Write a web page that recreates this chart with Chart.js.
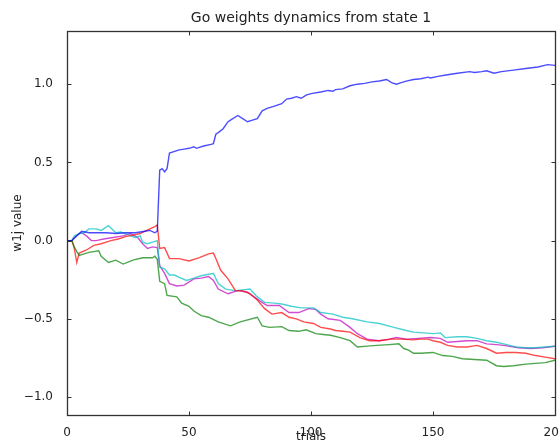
<!DOCTYPE html>
<html>
<head>
<meta charset="utf-8" />
<title>Go weights dynamics from state 1</title>
<script src="https://cdn.jsdelivr.net/npm/chart.js@4.4.0/dist/chart.umd.min.js"></script>
<style>
    html, body { margin: 0; padding: 0; background: #fff; }
    #wrap { width: 559px; height: 444px; overflow: hidden; }
</style>
</head>
<body>
<div id="wrap"><canvas id="chart" width="580" height="444"></canvas></div>
<script>
    // trial numbers and w1j values, one pair of arrays per line
    const blueT = [0,2,4,6,9,12,16,20,24,28,32,34,36,37,38,39,40,41,42,46,48,50,52,53,56,59,60,61,62,64,66,67,70,72,74,76,78,80,82,85,88,90,92,94,96,98,100,104,107,109,110,113,116,119,122,125,128,131,133,135,137,139,142,145,148,149,152,156,160,165,167,170,172,175,178,183,188,193,197,200];
    const blueW = [0,0,0.03,0.06,0.05,0.05,0.05,0.045,0.05,0.05,0.06,0.065,0.05,0.06,0.45,0.46,0.44,0.46,0.56,0.58,0.585,0.59,0.6,0.59,0.605,0.615,0.62,0.68,0.69,0.715,0.76,0.77,0.80,0.78,0.76,0.77,0.78,0.83,0.845,0.86,0.875,0.905,0.91,0.92,0.91,0.93,0.94,0.95,0.96,0.955,0.965,0.97,0.99,1.00,1.005,1.015,1.02,1.03,1.01,1.00,1.01,1.02,1.03,1.035,1.045,1.04,1.05,1.06,1.07,1.08,1.075,1.08,1.086,1.07,1.08,1.09,1.10,1.11,1.125,1.12];

    const greenT = [0,2,3,4,5,7,9,13,14,17,20,23,27,31,35,36,37,38,40,41,45,47,50,52,55,58,62,67,71,78,80,83,88,91,95,98,102,105,108,112,116,119,123,127,132,136,138,140,142,145,150,154,158,162,167,172,176,179,183,188,192,196,200];
    const greenW = [0,0,-0.04,-0.07,-0.095,-0.085,-0.075,-0.065,-0.1,-0.14,-0.125,-0.15,-0.125,-0.11,-0.11,-0.1,-0.12,-0.26,-0.275,-0.35,-0.36,-0.4,-0.42,-0.45,-0.48,-0.49,-0.52,-0.545,-0.52,-0.49,-0.545,-0.555,-0.55,-0.575,-0.58,-0.57,-0.595,-0.6,-0.605,-0.62,-0.64,-0.68,-0.675,-0.67,-0.665,-0.66,-0.69,-0.70,-0.72,-0.72,-0.715,-0.735,-0.74,-0.755,-0.76,-0.765,-0.80,-0.805,-0.80,-0.79,-0.785,-0.78,-0.765];

    const redT = [0,2,3,4,5,8,11,14,18,21,24,27,30,32,34,36,37,38,40,42,46,50,54,58,60,61,63,66,69,72,75,78,81,84,88,91,94,97,101,104,108,110,113,116,120,124,128,133,137,142,145,148,150,153,156,160,164,168,172,176,180,184,188,192,196,200];
    const redW = [0,0,-0.05,-0.14,-0.08,-0.06,-0.03,-0.02,0,0.01,0.025,0.035,0.045,0.06,0.075,0.09,0.1,-0.05,-0.045,-0.115,-0.115,-0.13,-0.11,-0.085,-0.08,-0.115,-0.19,-0.245,-0.32,-0.32,-0.34,-0.38,-0.435,-0.47,-0.46,-0.49,-0.5,-0.52,-0.53,-0.555,-0.565,-0.575,-0.58,-0.585,-0.62,-0.64,-0.64,-0.63,-0.63,-0.635,-0.63,-0.63,-0.64,-0.65,-0.67,-0.68,-0.68,-0.67,-0.69,-0.72,-0.715,-0.715,-0.72,-0.735,-0.745,-0.755];

    const cyanT = [0,2,3,5,7,9,12,14,17,18,20,22,24,26,28,30,31,33,35,37,38,40,42,44,46,49,52,55,58,60,62,65,69,72,75,78,81,85,88,92,96,101,104,109,113,117,123,128,134,139,142,146,150,153,155,160,164,168,172,176,179,184,188,192,196,200];
    const cyanW = [0,0,0.03,0.045,0.05,0.075,0.075,0.065,0.095,0.08,0.05,0.055,0.045,0.03,0.02,0.03,-0.01,-0.02,-0.01,0,-0.17,-0.18,-0.22,-0.22,-0.235,-0.255,-0.24,-0.225,-0.215,-0.21,-0.275,-0.31,-0.32,-0.315,-0.31,-0.36,-0.395,-0.4,-0.405,-0.42,-0.43,-0.43,-0.46,-0.47,-0.49,-0.5,-0.52,-0.53,-0.555,-0.575,-0.585,-0.59,-0.595,-0.59,-0.62,-0.615,-0.615,-0.625,-0.64,-0.65,-0.66,-0.68,-0.685,-0.685,-0.68,-0.675];

    const magentaT = [0,2,3,5,6,8,10,12,15,19,23,26,29,31,33,35,37,38,40,42,45,48,52,55,58,60,62,66,70,74,79,82,87,91,95,99,102,104,107,112,116,119,123,128,132,135,139,144,149,153,156,160,164,168,172,176,179,185,190,195,200];
    const magentaW = [0,0,0.02,0.045,0.05,0.03,0,0,0.01,0.02,0.03,0.045,0.02,-0.02,-0.05,-0.04,-0.045,-0.16,-0.21,-0.275,-0.29,-0.285,-0.245,-0.24,-0.23,-0.255,-0.31,-0.34,-0.32,-0.33,-0.385,-0.415,-0.415,-0.46,-0.46,-0.435,-0.44,-0.47,-0.5,-0.51,-0.555,-0.595,-0.63,-0.64,-0.63,-0.62,-0.63,-0.625,-0.62,-0.625,-0.65,-0.645,-0.64,-0.64,-0.66,-0.665,-0.67,-0.685,-0.69,-0.685,-0.675];

    const xTicks = [0, 50, 100, 150, 200];
    const yTicks = [-1.0, -0.5, 0.0, 0.5, 1.0];

    function pairs(ts, ws) {
        return ts.map((t, i) => ({ x: t, y: ws[i] }));
    }

    function line(ts, ws, color) {
        return {
            data: pairs(ts, ws),
            borderColor: color,
            borderWidth: 1.4,
            pointRadius: 0,
            tension: 0,
            fill: false
        };
    }

    // matplotlib-style box with inward ticks on all four sides
    const frame = {
        id: 'frame',
        afterDraw(chart) {
            const { ctx, chartArea: a, scales: { x, y } } = chart;
            const l = Math.round(a.left) + 0.5, r = Math.round(a.right) + 0.5;
            const t = Math.round(a.top) + 0.5, b = Math.round(a.bottom) + 0.5;
            ctx.save();
            ctx.strokeStyle = '#333';
            ctx.lineWidth = 1;
            ctx.beginPath();
            xTicks.forEach(v => {
                const px = Math.round(x.getPixelForValue(v)) + 0.5;
                ctx.moveTo(px, b); ctx.lineTo(px, b - 4);
                ctx.moveTo(px, t); ctx.lineTo(px, t + 4);
            });
            yTicks.forEach(v => {
                const py = Math.round(y.getPixelForValue(v)) + 0.5;
                ctx.moveTo(l, py); ctx.lineTo(l + 4, py);
                ctx.moveTo(r, py); ctx.lineTo(r - 4, py);
            });
            ctx.stroke();
            ctx.lineWidth = 1.3;
            ctx.strokeRect(l, t, r - l, b - t);
            ctx.restore();
        }
    };

    Chart.defaults.font.family = '"DejaVu Sans", sans-serif';
    Chart.defaults.color = '#222';

    new Chart(document.getElementById('chart'), {
        type: 'line',
        data: {
            datasets: [
                line(blueT, blueW, 'rgba(0,0,255,0.7)'),
                line(greenT, greenW, 'rgba(0,128,0,0.7)'),
                line(redT, redW, 'rgba(255,0,0,0.7)'),
                line(cyanT, cyanW, 'rgba(0,191,191,0.7)'),
                line(magentaT, magentaW, 'rgba(191,0,191,0.7)')
            ]
        },
        options: {
            responsive: false,
            animation: false,
            layout: { padding: { left: 0, right: 25, top: 0, bottom: 0 } },
            plugins: {
                legend: { display: false },
                tooltip: { enabled: false },
                title: {
                    display: true,
                    fullSize: false,
                    text: 'Go weights dynamics from state 1',
                    font: { size: 14, weight: 'normal' },
                    color: '#222',
                    padding: { top: 10, bottom: 4.2 }
                }
            },
            scales: {
                x: {
                    type: 'linear',
                    min: 0,
                    max: 200,
                    grid: { display: false },
                    border: { display: false },
                    ticks: {
                        stepSize: 50,
                        padding: 3,
                        maxRotation: 0,
                        font: { size: 12 },
                        callback: v => xTicks.includes(v) ? String(v) : ''
                    },
                    title: { display: true, text: 'trials', font: { size: 12 }, padding: { top: 0, bottom: 0 } },
                    afterFit: s => { s.height = 29; }
                },
                y: {
                    type: 'linear',
                    min: -1.115,
                    max: 1.34,
                    grid: { display: false },
                    border: { display: false },
                    ticks: {
                        stepSize: 0.5,
                        includeBounds: false,
                        padding: 6,
                        font: { size: 12 },
                        callback: v => v.toFixed(1).replace('-', '\u2212')
                    },
                    title: { display: true, text: 'w1j value', font: { size: 12 }, padding: { top: 11, bottom: 0 } },
                    afterFit: s => { s.width = 67; }
                }
            }
        },
        plugins: [frame]
    });
</script>
</body>
</html>
